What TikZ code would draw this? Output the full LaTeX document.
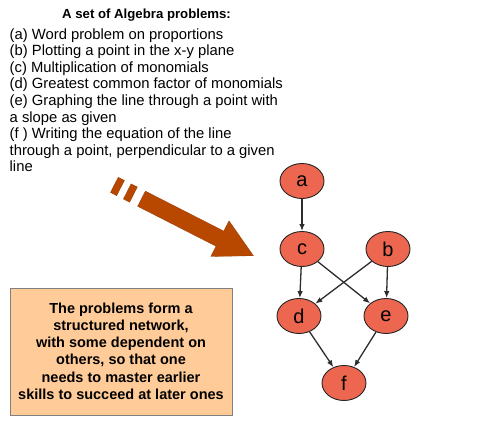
\documentclass[tikz,border=0pt]{standalone}
\usepackage{fontspec}
\setmainfont{Liberation Sans}
\usetikzlibrary{arrows.meta,shapes.geometric}
\definecolor{nodefill}{RGB}{237,102,79}
\definecolor{arrowbrown}{RGB}{184,72,0}
\definecolor{peach}{RGB}{255,204,153}
\definecolor{edgegray}{RGB}{45,45,45}
\definecolor{boxgray}{RGB}{128,128,128}
\begin{document}
\begin{tikzpicture}[x=1pt,y=-1pt,
  vert/.style={ellipse, draw=black!85, line width=0.9pt, fill=nodefill,
    minimum width=44pt, minimum height=35pt, inner sep=0pt,
    font=\fontsize{20}{20}\selectfont},
  link/.style={draw=edgegray, line width=1.3pt, -{Latex[length=7pt,width=5.5pt]}},
  listline/.style={anchor=base west, inner sep=0pt, font=\fontsize{14.8}{16}\selectfont},
  titleline/.style={anchor=base, inner sep=0pt, font=\bfseries\fontsize{13.2}{14}\selectfont},
  boxline/.style={anchor=base, inner sep=0pt, font=\bfseries\fontsize{14.5}{16}\selectfont},
  bigarrow/.style={fill=arrowbrown, draw=arrowbrown!80!black, line width=0.3pt}]
\useasboundingbox (0,0) rectangle (484,442);

% title and list
\node[titleline] (title) at (146.5,18) {A set of Algebra problems:};
\node[listline] (l1) at (9.5,39) {(a) Word problem on proportions};
\node[listline] (l2) at (9.5,55.6) {(b) Plotting a point in the x-y plane};
\node[listline] (l3) at (9.5,72.2) {(c) Multiplication of monomials};
\node[listline] (l4) at (9.5,88.8) {(d) Greatest common factor of monomials};
\node[listline] (l5) at (9.5,105.4) {(e) Graphing the line through a point with};
\node[listline] (l6) at (9.5,122) {a slope as given};
\node[listline] (l7) at (9.5,138.6) {(f ) Writing the equation of the line};
\node[listline] (l8) at (9.5,155.2) {through a point, perpendicular to a given};
\node[listline] (l9) at (9.5,171.8) {line};

% big arrow
\begin{scope}[shift={(141.5,198.7)}, rotate=-27]
  \fill[bigarrow] (0,-8.5) -- (88,-8.5) -- (88,-20) -- (125.6,0) -- (88,20) -- (88,8.5) -- (0,8.5) -- cycle;
  \fill[bigarrow] (-16,-8.5) rectangle (-9,8.5);
  \fill[bigarrow] (-30.5,-8.5) rectangle (-23.5,8.5);
\end{scope}

% graph
\node[vert] (a) at (302,181) {a};
\node[vert] (c) at (302,249) {c};
\node[vert] (b) at (388,249) {b};
\node[vert] (d) at (299,316) {d};
\node[vert] (e) at (386,316) {e};
\node[vert] (f) at (344,383) {f};
\draw[link] (a) -- (c);
\draw[link] (c) -- (d);
\draw[link] (c) -- (e);
\draw[link] (b) -- (d);
\draw[link] (b) -- (e);
\draw[link] (d) -- (f);
\draw[link] (e) -- (f);

% explanation box
\node[draw=boxgray, fill=peach, line width=0.8pt, minimum width=222pt, minimum height=127pt, inner sep=0pt] (box) at (121,351.5) {};
\node[boxline] (t1) at (121,313.3) {The problems form a};
\node[boxline] (t2) at (121,330.5) {structured network,};
\node[boxline] (t3) at (121,347.7) {with some dependent on};
\node[boxline] (t4) at (121,364.9) {others, so that one};
\node[boxline] (t5) at (121,382.1) {needs to master earlier};
\node[boxline] (t6) at (121,399.3) {skills to succeed at later ones};
\end{tikzpicture}
\end{document}
